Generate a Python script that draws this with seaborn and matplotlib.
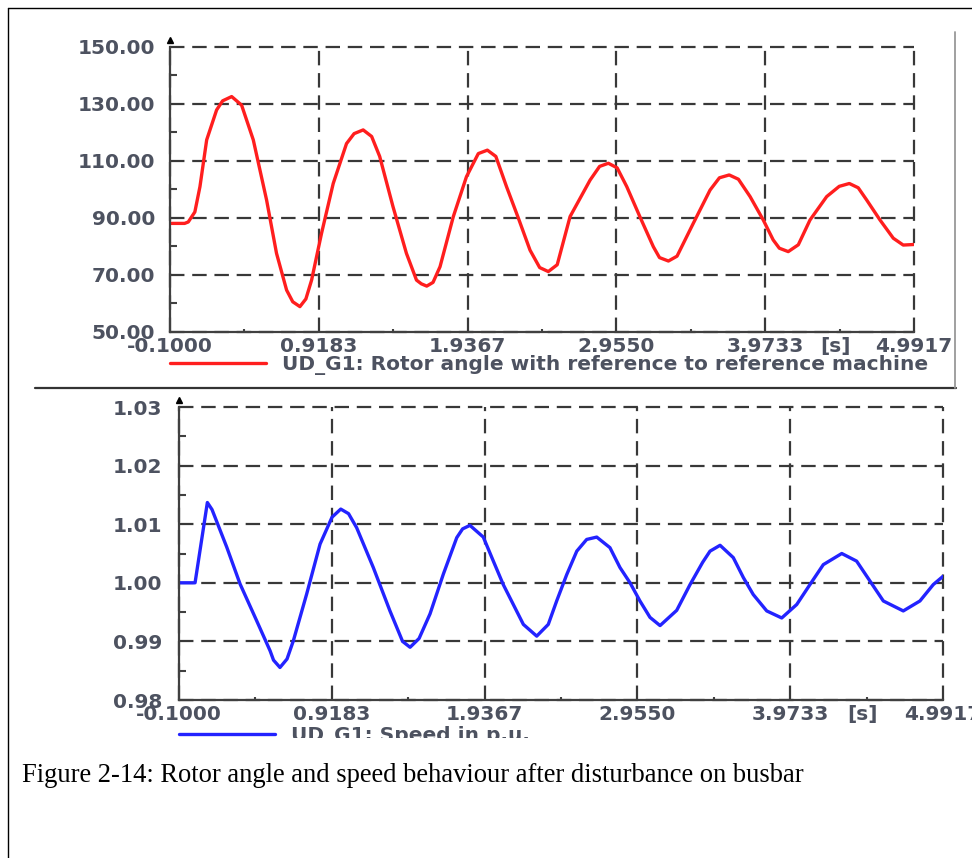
import matplotlib
matplotlib.use("Agg")
import matplotlib.pyplot as plt
import seaborn as sns
from matplotlib.lines import Line2D
from matplotlib.transforms import Bbox

sns.set_style("white")
plt.rcParams["font.family"] = ["DejaVu Sans"]

# time axis shared by both panels
x_ticks = [-0.1, 0.9183, 1.9367, 2.9550, 3.9733, 4.9917]
x_ticklabels = ["-0.1000", "0.9183", "1.9367", "2.9550", "3.9733", "4.9917"]
x_minor = [0.4092, 1.4275, 2.4458, 3.4642, 4.4825]

# rotor angle (deg)
angle_time = [-0.1, 0.0, 0.025, 0.07, 0.105, 0.151, 0.219, 0.26, 0.322, 0.39, 0.47, 0.561,
              0.629, 0.698, 0.74, 0.789, 0.83, 0.869, 0.937, 1.017, 1.108, 1.16, 1.222,
              1.28, 1.335, 1.426, 1.518, 1.587, 1.62, 1.657, 1.70, 1.748, 1.839, 1.929,
              2.01, 2.072, 2.13, 2.203, 2.283, 2.364, 2.43, 2.489, 2.55, 2.638, 2.775,
              2.84, 2.90, 2.96, 3.026, 3.117, 3.208, 3.25, 3.311, 3.37, 3.481, 3.596,
              3.66, 3.727, 3.79, 3.87, 3.96, 4.028, 4.07, 4.131, 4.20, 4.28, 4.394,
              4.48, 4.549, 4.61, 4.668, 4.759, 4.85, 4.918, 4.9917]
rotor_angle = [88.0, 88.0, 88.5, 92.0, 100.9, 117.3, 127.8, 131.0, 132.5, 129.5, 117.3, 96.2,
               77.5, 64.6, 60.5, 58.8, 61.5, 68.1, 84.5, 102.0, 116.0, 119.5, 120.8,
               118.5, 111.5, 93.9, 77.5, 68.1, 66.8, 66.0, 67.3, 72.8, 90.4, 104.4,
               112.5, 113.7, 111.5, 100.9, 90.0, 78.6, 72.5, 71.1, 73.5, 90.4, 103.2,
               108.0, 109.1, 107.5, 100.9, 90.2, 79.8, 76.0, 74.8, 76.5, 88.0, 99.7,
               104.0, 105.0, 103.5, 97.4, 89.2, 82.2, 79.3, 78.1, 80.5, 89.2, 97.4,
               101.0, 102.0, 100.5, 96.2, 89.2, 82.8, 80.4, 80.6]
angle_yticks = [50, 70, 90, 110, 130, 150]
angle_yticklabels = ["50.00", "70.00", "90.00", "110.00", "130.00", "150.00"]
angle_yminor = [60, 80, 100, 120, 140]

# speed (p.u.)
speed_time = [-0.1, 0.007, 0.089, 0.12, 0.218, 0.307, 0.418, 0.507, 0.53, 0.573, 0.62,
              0.662, 0.751, 0.84, 0.92, 0.978, 1.03, 1.084, 1.195, 1.306, 1.39, 1.44,
              1.50, 1.573, 1.662, 1.751, 1.79, 1.839, 1.928, 1.995, 2.061, 2.128,
              2.195, 2.284, 2.361, 2.417, 2.484, 2.551, 2.617, 2.684, 2.772, 2.839,
              2.906, 2.972, 3.039, 3.106, 3.217, 3.306, 3.39, 3.439, 3.506, 3.594,
              3.661, 3.727, 3.817, 3.917, 4.017, 4.105, 4.194, 4.317, 4.416, 4.505,
              4.594, 4.727, 4.838, 4.927, 4.9917]
speed = [1.0, 1.0, 1.0137, 1.0125, 1.0061, 0.9998, 0.9935, 0.9884, 0.9868, 0.98555, 0.9870,
         0.9901, 0.9981, 1.0066, 1.0112, 1.01258, 1.0118, 1.0094, 1.0026, 0.9952, 0.9900, 0.9890,
         0.9905, 0.9947, 1.0015, 1.0077, 1.0092, 1.0098, 1.0078, 1.0037, 0.9997, 0.9963,
         0.9929, 0.9909, 0.9929, 0.9969, 1.0014, 1.0054, 1.0074, 1.0078, 1.0060, 1.0026,
         1.0000, 0.9969, 0.9941, 0.9927, 0.9953, 0.9997, 1.0035, 1.0054, 1.0064, 1.0043,
         1.0009, 0.9980, 0.9952, 0.9940, 0.9963, 0.9997, 1.0031, 1.0050, 1.0037, 1.0003,
         0.9969, 0.9952, 0.9969, 0.9997, 1.0011]
speed_yticks = [0.98, 0.99, 1.00, 1.01, 1.02, 1.03]
speed_yticklabels = ["0.98", "0.99", "1.00", "1.01", "1.02", "1.03"]
speed_yminor = [0.985, 0.995, 1.005, 1.015, 1.025]

caption = "Figure 2-14: Rotor angle and speed behaviour after disturbance on busbar"

W, H = 972, 858
label_color = "#4d5260"
grid_color = "#383838"
fs = 14.5

fig = plt.figure(figsize=(W / 100, H / 100), dpi=100)
ax1 = fig.add_axes([170 / W, 1 - 331.7 / H, 744 / W, 285 / H])
ax2 = fig.add_axes([179 / W, 1 - 700 / H, 764 / W, 293 / H])


def style_axes(ax, ylim, yticks, yticklabels, yminor, ypad):
    ax.set_xlim(x_ticks[0], x_ticks[-1])
    ax.set_ylim(ylim)
    ax.set_xticks(x_ticks)
    ax.set_xticklabels(x_ticklabels)
    ax.set_yticks(yticks)
    ax.set_yticklabels(yticklabels)
    ax.set_xticks(x_minor, minor=True)
    ax.set_yticks(yminor, minor=True)
    ax.tick_params(axis="x", which="major", direction="in", length=0, pad=3.6,
                   labelsize=fs, labelcolor=label_color)
    ax.tick_params(axis="y", which="major", direction="in", length=0, pad=ypad,
                   labelsize=fs, labelcolor=label_color)
    ax.tick_params(axis="y", which="minor", direction="in", length=5, width=1.5,
                   color="#404040", left=True)
    ax.tick_params(axis="x", which="minor", direction="in", length=2.5, width=1.5,
                   color="#404040", bottom=True)
    for lab in ax.get_xticklabels() + ax.get_yticklabels():
        lab.set_fontweight("bold")
    ax.grid(True, which="major", color=grid_color, linewidth=1.6,
            linestyle=(0, (6.5, 3.5)))
    for gl in ax.get_xgridlines() + ax.get_ygridlines():
        gl.set_clip_on(False)
    for side in ["top", "right"]:
        ax.spines[side].set_visible(False)
    for side in ["left", "bottom"]:
        ax.spines[side].set_color("#404040")
        ax.spines[side].set_linewidth(1.6)
    ax.set_xlabel("")
    ax.set_ylabel("")
    ax.plot([0], [1.025], marker="^", ms=4, color="black", transform=ax.transAxes,
            clip_on=False)
    ax.annotate("[s]", xy=(4.455, 0), xycoords=("data", "axes fraction"),
                xytext=(0, -10.6), textcoords="offset points", ha="center", va="center",
                fontsize=fs, fontweight="bold", color=label_color)


sns.lineplot(x=angle_time, y=rotor_angle, ax=ax1, color="#ff1e1e", linewidth=2.4,
             label="UD_G1: Rotor angle with reference to reference machine")
sns.lineplot(x=speed_time, y=speed, ax=ax2, color="#2323ff", linewidth=2.4,
             label="UD_G1: Speed in p.u.")

style_axes(ax1, (50, 150), angle_yticks, angle_yticklabels, angle_yminor, 10.5)
style_axes(ax2, (0.98, 1.03), speed_yticks, speed_yticklabels, speed_yminor, 12)

leg1 = ax1.legend(loc="center left", bbox_to_anchor=(0, -0.118), frameon=False,
                  borderpad=0, borderaxespad=0, handlelength=4.75, handletextpad=0.8,
                  prop={"weight": "bold", "size": fs})
leg2 = ax2.legend(loc="center left", bbox_to_anchor=(0, -0.122), frameon=False,
                  borderpad=0, borderaxespad=0, handlelength=4.75, handletextpad=0.8,
                  prop={"weight": "bold", "size": fs})
for t in leg1.get_texts():
    t.set_color(label_color)
    t.set_clip_on(True)
    t.set_clip_box(Bbox([[0, 0], [955, H]]))
for t in leg2.get_texts():
    t.set_color(label_color)
    t.set_clip_on(True)
    t.set_clip_box(Bbox([[0, H - 738], [W, H]]))

# screenshot frame of the upper panel and page border
fig.add_artist(Line2D([35 / W, 956 / W], [1 - 388 / H, 1 - 388 / H], color="#333333", lw=1.6))
fig.add_artist(Line2D([955 / W, 955 / W], [1 - 32 / H, 1 - 388 / H], color="#999999", lw=1.3))
fig.add_artist(Line2D([8 / W, 1], [1 - 8 / H, 1 - 8 / H], color="black", lw=1.0))
fig.add_artist(Line2D([8 / W, 8 / W], [0, 1 - 8 / H], color="black", lw=1.0))

fig.text(22 / W, 1 - 776 / H, caption, family="Liberation Serif", fontsize=19.1,
         va="center", ha="left", color="black")

fig.savefig("out.png", dpi=100)
plt.close(fig)
